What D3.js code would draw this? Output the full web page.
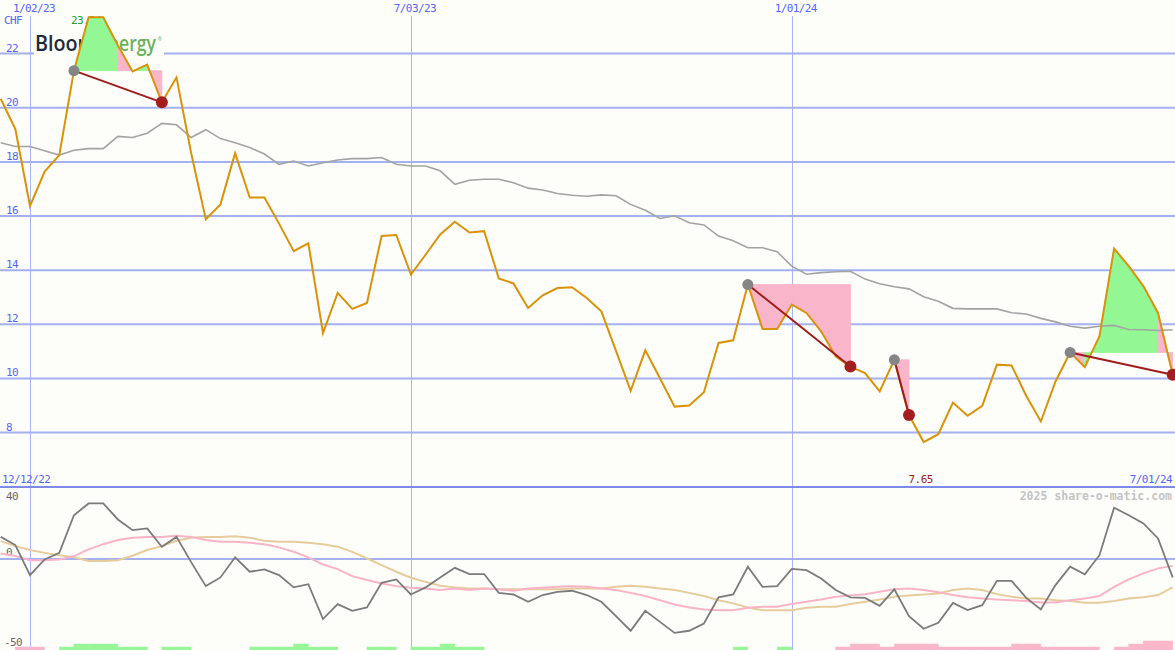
<!DOCTYPE html>
<html><head><meta charset="utf-8">
<script src="https://cdn.jsdelivr.net/npm/d3@7"></script>
<style>
html,body{margin:0;padding:0;background:#fdfefa;}
svg{display:block;}
.lbl{font-family:"DejaVu Sans Mono",monospace;font-size:11px;letter-spacing:-0.6px;}
</style></head>
<body>
<svg id="chart" width="1175" height="650"></svg>
<script>
// ---- data (weekly, starting 2022-12-19) ----
const startDate = new Date(2022, 11, 19);
const price = [20.33,19.21,16.37,17.64,18.25,21.37,23.34,23.34,22.3,21.34,
  21.59,20.2,21.12,18.33,15.88,16.43,18.32,16.68,16.68,15.72,
  14.7,14.99,11.68,13.16,12.57,12.79,15.26,15.3,13.84,14.57,
  15.32,15.79,15.39,15.44,13.69,13.51,12.6,13.07,13.34,13.37,
  12.97,12.48,11.02,9.54,11.04,10.01,8.96,9.0,9.49,11.31,
  11.41,13.47,11.83,11.83,12.73,12.42,11.74,10.81,10.44,10.2,
  9.52,10.69,8.65,7.65,7.94,9.11,8.62,8.99,10.51,10.48,
  9.36,8.41,9.89,10.96,10.42,11.56,14.8,14.15,13.41,12.42,10.14];
const movingAvg = [18.71,18.57,18.57,18.41,18.25,18.43,18.49,18.49,18.94,18.9,
  19.06,19.42,19.37,18.9,19.19,18.86,18.71,18.53,18.29,17.91,
  18.03,17.85,17.97,18.07,18.12,18.12,18.16,17.91,17.85,17.85,
  17.67,17.17,17.32,17.36,17.36,17.23,17.03,16.96,16.83,16.77,
  16.73,16.78,16.75,16.43,16.21,15.91,16.01,15.75,15.67,15.26,
  15.09,14.83,14.83,14.68,14.15,13.85,13.91,13.94,13.96,13.67,
  13.5,13.39,13.31,13.02,12.85,12.59,12.57,12.57,12.57,12.43,
  12.38,12.22,12.09,11.93,11.86,11.93,11.96,11.81,11.8,11.77,11.8];
const oscillator = [12.5,7.9,-9.0,-0.2,3.5,24.7,31.3,31.3,22.3,16.3,
  17.3,6.9,12.5,-1.7,-15.2,-10.3,1.0,-7.1,-5.8,-9.0,
  -15.9,-14.1,-33.7,-25.3,-29.1,-27.2,-13.3,-11.4,-19.9,-15.9,
  -10.3,-4.9,-8.4,-8.4,-19.0,-19.9,-24.0,-20.2,-18.4,-17.8,
  -20.2,-24.0,-32.1,-40.3,-29.1,-35.3,-41.5,-40.3,-36.2,-21.5,
  -19.9,-4.3,-15.6,-15.2,-5.5,-6.2,-10.9,-17.4,-21.5,-21.8,
  -26.3,-17.0,-32.1,-39.2,-35.8,-24.6,-28.7,-25.9,-12.2,-12.2,
  -21.8,-28.3,-14.6,-4.3,-8.6,2.2,28.9,24.7,20.1,11.6,-10.3];
const signalPink = [3.2,1.7,-0.6,-0.6,-0.2,1.7,5.5,8.4,10.7,12.0,
  12.5,12.5,13.1,12.5,10.7,9.7,9.7,9.2,8.4,6.6,
  4.1,1.0,-3.0,-5.6,-9.6,-11.8,-13.7,-15.2,-16.1,-16.5,
  -17.4,-16.5,-17.4,-16.5,-17.0,-17.8,-16.5,-16.1,-15.6,-15.2,
  -15.6,-16.5,-17.4,-19.0,-20.8,-23.1,-25.5,-27.2,-28.3,-28.7,
  -28.7,-27.4,-26.8,-26.8,-25.3,-24.0,-22.7,-21.2,-20.4,-19.7,
  -18.4,-17.0,-16.5,-17.4,-18.6,-20.2,-21.5,-22.1,-22.7,-23.1,
  -23.6,-24.4,-24.4,-23.1,-22.1,-20.8,-15.6,-11.4,-8.0,-5.2,-3.8];
const signalTan = [10.1,7.3,5.1,3.5,2.2,1.0,-1.0,-1.0,-0.6,1.9,
  5.1,7.3,10.3,12.0,12.5,12.5,12.9,12.0,10.3,9.7,
  9.7,9.2,8.4,6.9,4.1,0.4,-3.4,-7.1,-10.5,-12.8,
  -15.0,-15.9,-16.5,-16.5,-17.0,-17.0,-16.9,-17.0,-16.9,-16.5,
  -16.5,-16.5,-15.6,-15.0,-15.6,-16.5,-17.4,-19.0,-20.8,-23.1,
  -24.9,-27.2,-28.7,-28.7,-28.7,-27.4,-26.8,-26.8,-25.3,-24.0,
  -22.7,-21.2,-20.4,-19.9,-19.3,-17.4,-16.5,-17.4,-19.7,-21.2,
  -22.1,-22.1,-23.1,-23.6,-24.6,-24.6,-23.5,-22.1,-21.5,-20.2,-15.9];
const weekBars = [0,-1,-1,0,1,2,2,2,1,1,
  0,1,1,0,0,0,0,1,1,1,
  2,1,1,0,0,1,1,0,1,1,
  2,1,1,0,0,0,0,0,0,0,
  0,0,0,0,0,0,0,0,0,0,
  1,0,0,1,0,0,0,-1,-2,-2,
  -1,-2,-2,-2,-1,-1,-1,-1,-1,-2,
  -2,-1,-1,-1,-1,0,-1,-2,-3,-3,0];
const eventStart = [5, 51, 61, 73];
const eventEnd = [11, 58, 62, 80];
const priceTicks = [8,10,12,14,16,18,20,22];
const xTickDates = [new Date(2023,0,2), new Date(2023,6,3), new Date(2024,0,1)];
const xTickLabels = ["1/02/23","7/03/23","1/01/24"];
const oscTicks = [40, 0, -50];
const maxLabel = "23.34";
const minLabel = "7.65";

// ---- scales ----
const dates = price.map((_, i) => d3.timeDay.offset(startDate, 7 * i));
const x = d3.scaleTime().domain([dates[0], dates[dates.length - 1]]).range([0.7, 1172.7]);
const y = d3.scaleLinear().domain([8, 22]).range([432.6, 53.6]);
const yo = d3.scaleLinear().domain([-50, 40]).range([648, 488]);
const yb = d3.scaleLinear().domain([0, 3]).range([650, 641]);

const svg = d3.select("#chart");
svg.append("rect").attr("width",1175).attr("height",650).attr("fill","#fdfefa");

// vertical grid
svg.append("g").selectAll("line").data(xTickDates).join("line")
  .attr("x1", d => Math.round(x(d)) + 0.5).attr("x2", d => Math.round(x(d)) + 0.5)
  .attr("y1", 16).attr("y2", 650).attr("stroke", "#a9b4f2").attr("stroke-width", 1);
// horizontal price grid
svg.append("g").selectAll("line").data(priceTicks).join("line")
  .attr("x1", 0).attr("x2", 1175).attr("y1", d => y(d)).attr("y2", d => y(d))
  .attr("stroke", "#a4b0f0").attr("stroke-width", 2);
// oscillator zero line & separator
svg.append("line").attr("x1",0).attr("x2",1175).attr("y1",yo(0)).attr("y2",yo(0))
  .attr("stroke","#a4b0f0").attr("stroke-width",2);
svg.append("line").attr("x1",0).attr("x2",1175).attr("y1",487).attr("y2",487)
  .attr("stroke","#7d8aea").attr("stroke-width",2);

// labels
const blue = "#5566ee";
svg.append("text").attr("class","lbl").attr("x",4).attr("y",24).attr("fill",blue).text("CHF");
svg.append("g").selectAll("text").data(priceTicks).join("text").attr("class","lbl")
  .attr("x",6).attr("y",d => y(d) - 2).attr("fill",blue).text(d => d);
svg.append("g").selectAll("text").data(xTickDates).join("text").attr("class","lbl")
  .attr("x",d => x(d) + 4).attr("y",12).attr("text-anchor","middle").attr("fill",blue)
  .text((d,i) => xTickLabels[i]);
svg.append("text").attr("class","lbl").attr("x",2).attr("y",483).attr("fill",blue).text("12/12/22");
svg.append("text").attr("class","lbl").attr("x",1172).attr("y",483).attr("text-anchor","end").attr("fill",blue).text("7/01/24");
const minIdx = d3.minIndex(price);
svg.append("text").attr("class","lbl").attr("x",x(dates[minIdx]) - 3).attr("y",483)
  .attr("text-anchor","middle").attr("fill","#a01818").text(minLabel);
svg.append("g").selectAll("text").data(oscTicks).join("text").attr("class","lbl")
  .attr("x",d => d < 0 ? 4 : 6)
  .attr("y",d => d === 40 ? 500 : d === 0 ? 556 : 646)
  .attr("fill","#666").text(d => d);
svg.append("text").attr("x",1172).attr("y",500).attr("text-anchor","end")
  .attr("font-family","'DejaVu Sans Mono',monospace").attr("font-weight","bold")
  .attr("font-size","11.5px").attr("fill","#c4c4c4").text("2025 share-o-matic.com");

// logo
const logo = svg.append("g");
logo.append("rect").attr("x",34).attr("y",29).attr("width",130).attr("height",30).attr("fill","#fdfefa");
logo.append("text").attr("transform","translate(35,51) scale(0.94,1)")
  .attr("font-family","'Open Sans',sans-serif")
  .attr("font-size","21px").attr("font-weight","600").attr("fill","#1b2a3a").text("Bloom");
const en = logo.append("text").attr("transform","translate(98,51) scale(0.84,1)")
  .attr("font-family","'Open Sans',sans-serif")
  .attr("font-size","21px").attr("font-weight","600").attr("fill","#6cb25a");
en.append("tspan").text("Energy");
en.append("tspan").attr("font-size","6px").attr("font-weight","400").attr("dx",2).attr("dy",-10).text("®");

// max label (under fills)
svg.append("text").attr("class","lbl").attr("x",71).attr("y",24).attr("fill","#22a030").text(maxLabel);

// event fills
const seg = d3.area().x(i => x(dates[i])).y1(i => y(price[i]));
const fills = svg.append("g");
eventStart.forEach((s, k) => {
  const e = eventEnd[k], level = price[s];
  for (let i = s; i < e; i++) {
    const c = price[i + 1] > level ? "#93f793" : "#f9b5ca";
    fills.append("path")
      .attr("d", seg.y0(y(level))([i, i + 1]))
      .attr("fill", c).attr("stroke", c).attr("stroke-width", 0.8);
  }
});

// moving average and price
const line = d3.line().x((d, i) => x(dates[i])).y(d => y(d));
svg.append("path").attr("d", line(movingAvg)).attr("fill","none").attr("stroke","#a3a3a3").attr("stroke-width",1.6);
svg.append("path").attr("d", line(price)).attr("fill","none").attr("stroke","#d8930a").attr("stroke-width",2).attr("stroke-linejoin","miter");

// event connectors and markers
eventStart.forEach((s, k) => {
  const e = eventEnd[k];
  svg.append("line").attr("x1",x(dates[s])).attr("y1",y(price[s]))
    .attr("x2",x(dates[e])).attr("y2",y(price[e])).attr("stroke","#a11c1c").attr("stroke-width",2);
  svg.append("circle").attr("cx",x(dates[s])).attr("cy",y(price[s])).attr("r",5.5).attr("fill","#858585");
  svg.append("circle").attr("cx",x(dates[e])).attr("cy",y(price[e])).attr("r",6).attr("fill","#a31f1f");
});

// oscillator panel
const lo = d3.line().x((d, i) => x(dates[i])).y(d => yo(d));
svg.append("path").attr("d", lo(signalTan)).attr("fill","none").attr("stroke","#e6cc9c").attr("stroke-width",2);
svg.append("path").attr("d", lo(signalPink)).attr("fill","none").attr("stroke","#f9b3c6").attr("stroke-width",2);
svg.append("path").attr("d", lo(oscillator)).attr("fill","none").attr("stroke","#7b7b7b").attr("stroke-width",1.8);

// weekly bars
svg.append("g").selectAll("rect").data(weekBars.slice(0, -1)).join("rect")
  .attr("x",(d,i) => x(dates[i])).attr("width",(d,i) => x(dates[i+1]) - x(dates[i]))
  .attr("y",d => yb(Math.abs(d))).attr("height",d => 650 - yb(Math.abs(d)))
  .attr("fill",d => d > 0 ? "#98f598" : "#f9b7ca")
  .attr("stroke",d => d > 0 ? "#98f598" : "#f9b7ca").attr("stroke-width",0.5);
</script>
</body></html>
